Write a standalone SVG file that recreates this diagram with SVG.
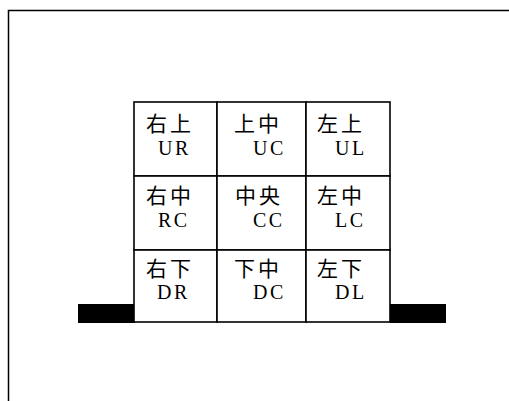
<svg xmlns="http://www.w3.org/2000/svg" width="509" height="401" viewBox="0 0 509 401">
<style>
.cjk{font-family:"Noto Sans CJK JP","Noto Sans CJK SC",sans-serif;font-size:21px;fill:#000;letter-spacing:3px}
.lat{font-family:"Liberation Serif",serif;font-size:20px;fill:#000;letter-spacing:2.5px}
.cell{fill:#fff;stroke:#000;stroke-width:1.6}
</style>
<rect width="509" height="401" fill="#fff"/>
<g id="frame"><path d="M8.5 401V10.5H509" fill="none" stroke="#000" stroke-width="1.5"/></g>
<g id="bars"><rect x="78" y="304" width="57" height="19" fill="#000"/><rect x="390" y="304" width="56" height="19" fill="#000"/></g>
<g id="UR"><rect class="cell" x="134" y="102" width="83" height="74"/><text class="cjk" x="146" y="131">右上</text><text class="lat" x="158" y="155">UR</text></g>
<g id="UC"><rect class="cell" x="217" y="102" width="89" height="74"/><text class="cjk" x="234" y="131">上中</text><text class="lat" x="253" y="155">UC</text></g>
<g id="UL"><rect class="cell" x="306" y="102" width="84" height="74"/><text class="cjk" x="317" y="131">左上</text><text class="lat" x="335" y="155">UL</text></g>
<g id="RC"><rect class="cell" x="134" y="176" width="83" height="74"/><text class="cjk" x="146" y="203">右中</text><text class="lat" x="158" y="227">RC</text></g>
<g id="CC"><rect class="cell" x="217" y="176" width="89" height="74"/><text class="cjk" x="235" y="203">中央</text><text class="lat" x="253" y="227">CC</text></g>
<g id="LC"><rect class="cell" x="306" y="176" width="84" height="74"/><text class="cjk" x="317" y="203">左中</text><text class="lat" x="335" y="227">LC</text></g>
<g id="DR"><rect class="cell" x="134" y="250" width="83" height="72"/><text class="cjk" x="146" y="276">右下</text><text class="lat" x="157" y="299">DR</text></g>
<g id="DC"><rect class="cell" x="217" y="250" width="89" height="72"/><text class="cjk" x="234" y="276">下中</text><text class="lat" x="253" y="299">DC</text></g>
<g id="DL"><rect class="cell" x="306" y="250" width="84" height="72"/><text class="cjk" x="317" y="276">左下</text><text class="lat" x="335" y="299">DL</text></g>
<g id="connectors"></g>
</svg>
